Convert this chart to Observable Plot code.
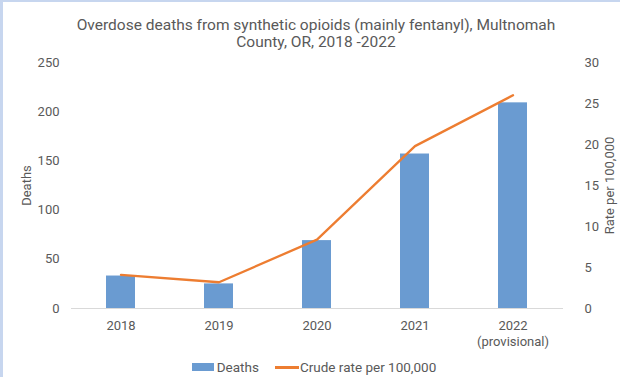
<!DOCTYPE html>
<html>
<head>
<meta charset="utf-8">
<script src="https://cdn.jsdelivr.net/npm/d3@7"></script>
<script src="https://cdn.jsdelivr.net/npm/@observablehq/plot@0.6"></script>
<style>
  html, body { margin: 0; padding: 0; background: #fff; }
  body { width: 620px; height: 377px; position: relative; overflow: hidden; font-family: Roboto, "Liberation Sans", sans-serif; color: #595959; }
  #frame { position: absolute; left: 0; top: 0; width: 620px; height: 377px; box-sizing: border-box; border-left: 3px solid #c7d6ef; border-top: 2px solid #c7d6ef; pointer-events: none; }
  #title { height: 33px; padding-top: 17px; padding-left: 12px; text-align: center; font-size: 15.5px; line-height: 16.5px; color: #595959; }
  #chart svg { display: block; }
  #legend { display: flex; justify-content: center; align-items: center; font-size: 13.5px; color: #595959; height: 20px; margin-top: 7px; padding-left: 8px; }
  .item { display: flex; align-items: center; margin: 0 8px; }
  .sw-bar { width: 22px; height: 8px; background: #6a9bd1; margin-right: 3px; }
  .sw-line { width: 24px; height: 3px; background: #ed7d31; margin-right: 1px; }
</style>
</head>
<body>
<div id="title">Overdose deaths from synthetic opioids (mainly fentanyl), Multnomah<br>County, OR, 2018 -2022</div>
<div id="chart"></div>
<div id="legend">
  <div class="item"><div class="sw-bar"></div><span>Deaths</span></div>
  <div class="item"><div class="sw-line"></div><span>Crude rate per 100,000</span></div>
</div>
<div id="frame"></div>
<script>
const years = ["2018", "2019", "2020", "2021", "2022"];
const yearLabels = ["2018", "2019", "2020", "2021", "2022\n(provisional)"];
const deaths = [33, 25, 69, 157, 209];
const rates = [4.1, 3.2, 8.4, 19.8, 26.0];
const deathTicks = [0, 50, 100, 150, 200, 250];
const rateTicks = [0, 5, 10, 15, 20, 25, 30];

const deathMax = 250, rateMax = 30;
const k = deathMax / rateMax;
const data = years.map((y, i) => ({year: y, deaths: deaths[i], rate: rates[i], rateScaled: rates[i] * k}));
const labelOf = Object.fromEntries(years.map((y, i) => [y, yearLabels[i]]));

const chart = Plot.plot({
  width: 620,
  height: 300,
  marginTop: 12,
  marginBottom: 42,
  marginLeft: 71,
  marginRight: 57,
  style: {fontFamily: "Roboto, 'Liberation Sans', sans-serif", fontSize: "13px", color: "#595959", background: "transparent"},
  x: {domain: years, paddingInner: 0.7, paddingOuter: 0.35, axis: null},
  y: {domain: [0, deathMax], axis: null},
  marks: [
    Plot.barY(data, {x: "year", y: "deaths", fill: "#6a9bd1"}),
    Plot.ruleY([0], {stroke: "#d9d9d9", strokeWidth: 1}),
    Plot.line(data, {x: "year", y: "rateScaled", stroke: "#ed7d31", strokeWidth: 2.3}),
    Plot.axisX({tickSize: 0, tickPadding: 9, lineHeight: 1.3, tickFormat: d => labelOf[d], fill: "#595959", label: null}),
    Plot.axisY(deathTicks, {anchor: "left", tickSize: 0, tickPadding: 12, fill: "#595959", label: "Deaths", labelAnchor: "center", labelArrow: "none", labelOffset: 50}),
    Plot.axisY(rateTicks.map(v => v * k), {anchor: "right", tickSize: 0, tickPadding: 21, fill: "#595959", tickFormat: d => String(Math.round(d / k)), label: "Rate per 100,000", labelAnchor: "center", labelArrow: "none", labelOffset: 50})
  ]
});
document.getElementById("chart").appendChild(chart);
</script>
</body>
</html>
